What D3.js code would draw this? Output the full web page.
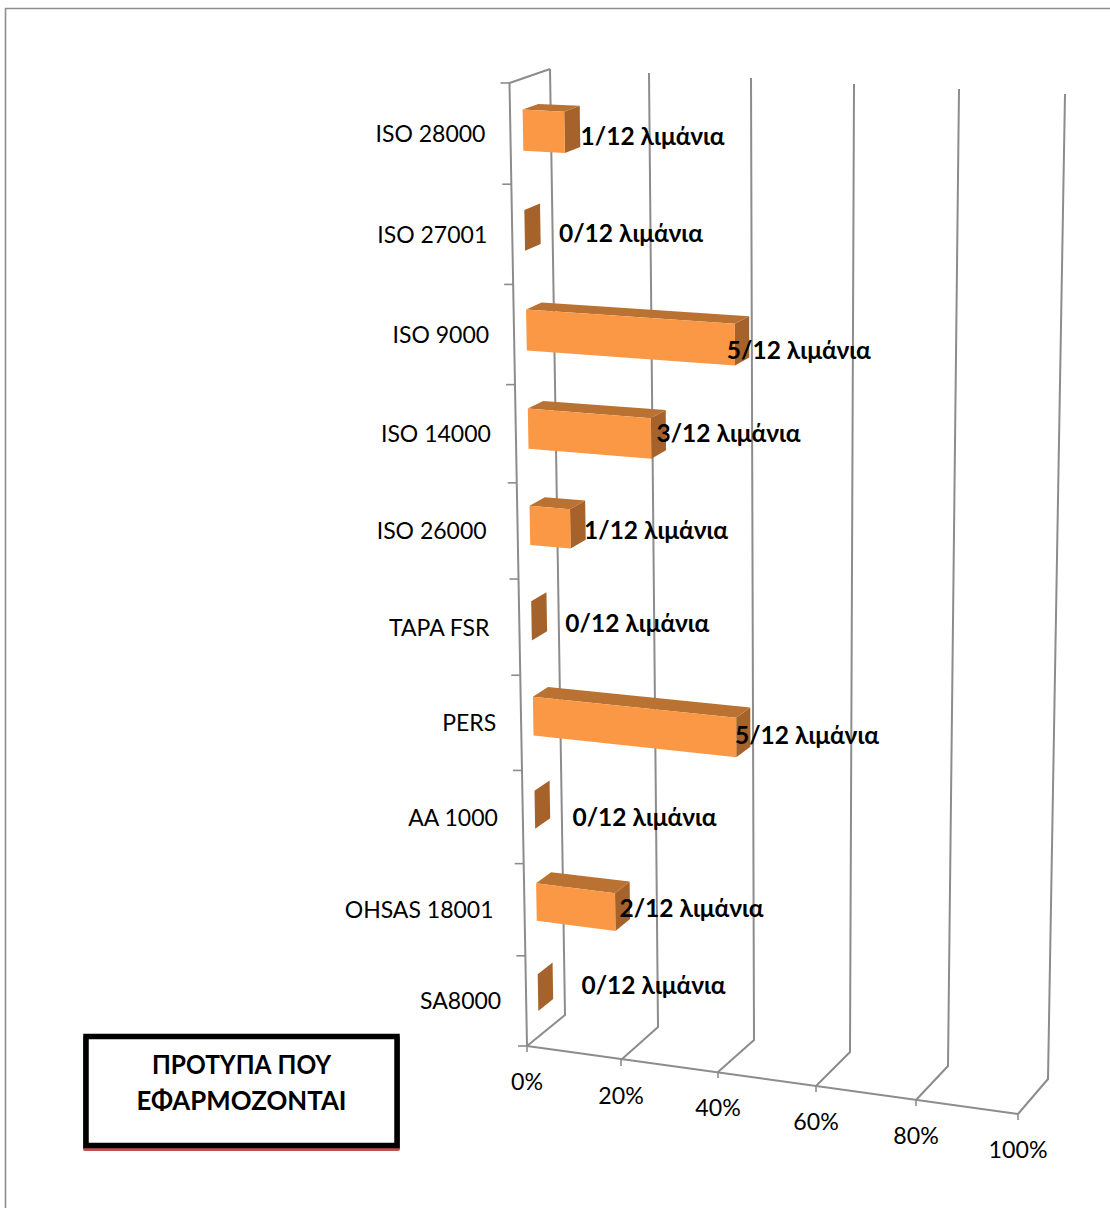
<!DOCTYPE html>
<html><head><meta charset="utf-8">
<script src="https://cdn.jsdelivr.net/npm/d3@7"></script>
<style>html,body{margin:0;padding:0;background:#fff;overflow:hidden}svg{display:block}
text{font-family:Lato,"Open Sans","Noto Sans",sans-serif;fill:#000}</style></head><body>
<script>
const categories=["ISO 28000","ISO 27001","ISO 9000","ISO 14000","ISO 26000","TAPA FSR","PERS","AA 1000","OHSAS 18001","SA8000"];
const portCounts=[1,0,5,3,1,0,5,0,2,0];
const totalPorts=12;
const portWord="λιμάνια";
const valueTicks=[0,20,40,60,80,100];
const titleLines=["ΠΡΟΤΥΠΑ ΠΟΥ","ΕΦΑΡΜΟΖΟΝΤΑΙ"];

// projection of the 3-D box: corners of the plot at each value tick
const frontBottomX=[527,621,718,816,916,1018], frontBottomY=[1046,1060,1072,1086,1100,1114];
const frontTopX=[509.5,610,714,818,925,1033], frontTopY=[83,88,93,100,105,112];
const backBottomX=[565,658,754,850,948,1048], backBottomY=[1015,1027,1040,1052,1066,1079];
const backTopX=[550,649,751,854,959,1065], backTopY=[69,73,78,84,89,94];
const categoryEdgeY=[1044,954,862,769,674,578,482,384,284,184,83];
const vs=a=>d3.scaleLinear().domain(valueTicks).range(a);
const fbx=vs(frontBottomX),fby=vs(frontBottomY),ftx=vs(frontTopX),fty=vs(frontTopY),
      bbx=vs(backBottomX),bby=vs(backBottomY),btx=vs(backTopX),bty=vs(backTopY);
const cat=d3.scaleLinear().domain(d3.range(11)).range(categoryEdgeY.map(y=>(1044-y)/961));
const mix=d3.interpolateNumber;
function project(v,c,d){
  const t=cat(c);
  const fx=mix(fbx(v),ftx(v))(t),fy=mix(fby(v),fty(v))(t),
        bx=mix(bbx(v),btx(v))(t),by=mix(bby(v),bty(v))(t);
  return [mix(fx,bx)(d),mix(fy,by)(d)];
}
const D0=0.31,D1=0.70,HALF=0.205,SHIFT=-0.012;
const rows=categories.map((name,i)=>({name,i,n:portCounts[i],v:portCounts[i]/totalPorts*100,c:categories.length-1-i+0.5}));

const labelDx=[1,19,-22,-9,-1,19,-15,23,-10,29];
const labelDy=[2.5,-0.5,15.5,-0.5,-0.5,-4,12.5,0.5,-1,-15];
const catNudge=[0,0,0,0,-6,-5,0,0,-6,0];

const W=1110,H=1208;
const svg=d3.select("body").append("svg").attr("width",W).attr("height",H);
// outer frame
svg.append("path").attr("d",d3.line()([[5.5,H+2],[5.5,8.5],[W+2,8.5]])).attr("fill","none").attr("stroke","#8e8e8e").attr("stroke-width",1.6);

const line=d3.line();
const axisCol="#8c8c8c";
const g=svg.append("g").attr("fill","none").attr("stroke",axisCol).attr("stroke-width",2);
// gridlines: floor + back wall
g.selectAll("path.grid").data(valueTicks).join("path").attr("class","grid")
 .attr("d",v=>line([project(v,0,0),project(v,0,1),project(v,10,1)]));
// side wall top edge and category axis
g.append("path").attr("d",line([project(0,10,1),project(0,10,0),project(0,0,0)]));
// value axis
g.append("path").attr("d",line([project(0,0,0),project(100,0,0)]));
// ticks
g.selectAll("path.ct").data(d3.range(11)).join("path").attr("class","ct").attr("stroke-width",1.6)
 .attr("d",c=>{const p=project(0,c,0);return line([[p[0]-9,p[1]],p]);});
g.selectAll("path.vt").data(valueTicks).join("path").attr("class","vt").attr("stroke-width",1.6)
 .attr("d",v=>{const p=project(v,0,0);return line([p,[p[0],p[1]+6]]);});

// bars
const bars=svg.append("g").selectAll("g").data(rows).join("g");
const poly=pts=>line(pts)+"Z";
const lo=r=>r.c+SHIFT-HALF, hi=r=>r.c+SHIFT+HALF;
bars.append("path").attr("fill","#A5632B").attr("d",r=>poly([project(r.v,lo(r),D0),project(r.v,hi(r),D0),project(r.v,hi(r),D1),project(r.v,lo(r),D1)]));
bars.filter(r=>r.v>0).append("path").attr("fill","#BA7232").attr("d",r=>poly([project(0,hi(r),D0),project(r.v,hi(r),D0),project(r.v,hi(r),D1),project(0,hi(r),D1)]));
bars.filter(r=>r.v>0).append("path").attr("fill","#FA9846").attr("d",r=>poly([project(0,lo(r),D0),project(r.v,lo(r),D0),project(r.v,hi(r),D0),project(0,hi(r),D0)]));

// data labels
svg.append("g").selectAll("text").data(rows).join("text")
 .attr("x",r=>project(r.v,r.c,D0+0.38)[0]+labelDx[r.i])
 .attr("y",r=>(project(0,r.c,0)[1])+labelDy[r.i])
 .attr("dy","0.35em").attr("font-size",24.5).attr("font-weight",700)
 .text(r=>`${r.n}/${totalPorts} ${portWord}`);

// category labels
svg.append("g").selectAll("text").data(rows).join("text")
 .attr("x",r=>project(0,r.c,0)[0]-25+catNudge[r.i])
 .attr("y",r=>project(0,r.c,0)[1]+0.5)
 .attr("dy","0.35em").attr("text-anchor","end").attr("font-size",23)
 .text(r=>r.name);

// value labels
svg.append("g").selectAll("text").data(valueTicks).join("text")
 .attr("x",v=>project(v,0,0)[0]).attr("y",v=>project(v,0,0)[1]+35.5)
 .attr("dy","0.35em").attr("text-anchor","middle").attr("font-size",23.2)
 .text(v=>v+"%");

// title box
const box=svg.append("g");
box.append("rect").attr("x",83).attr("y",1036).attr("width",317).attr("height",115).attr("rx",2).attr("fill","#C0504D");
box.append("rect").attr("x",86).attr("y",1036.5).attr("width",311).attr("height",109).attr("fill","#fff").attr("stroke","#000").attr("stroke-width",5.5);
const titleWidths=[179,210];
box.selectAll("text").data(titleLines).join("text").attr("x",241.5).attr("y",(d,i)=>1065+i*36)
 .attr("dy","0.35em").attr("text-anchor","middle").attr("font-size",26).attr("font-weight",700)
 .attr("textLength",(d,i)=>titleWidths[i]).attr("lengthAdjust","spacingAndGlyphs").text(d=>d);
</script></body></html>
